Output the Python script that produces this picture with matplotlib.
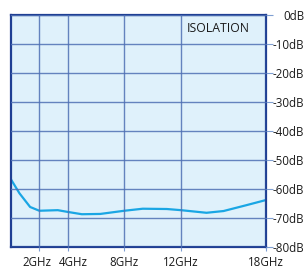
import matplotlib
matplotlib.use("Agg")
import matplotlib.pyplot as plt
import matplotlib.transforms as mtransforms

freq_ghz = [0.0, 0.6, 1.35, 2.0, 3.3, 4.0, 5.0, 6.3, 8.0, 9.3, 11.0, 12.0, 13.8, 15.0, 16.6, 18.0]
isolation_db = [-56.7, -61.5, -66.2, -67.5, -67.3, -67.9, -68.7, -68.6, -67.5, -66.8, -66.9, -67.3, -68.2, -67.6, -65.6, -63.8]

x_ticks = [2, 4, 8, 12, 18]
x_labels = ["2GHz", "4GHz", "8GHz", "12GHz", "18GHz"]
y_ticks = [0, -10, -20, -30, -40, -50, -60, -70, -80]
y_labels = ["0dB", "-10dB", "-20dB", "-30dB", "-40dB", "-50dB", "-60dB", "-70dB", "-80dB"]
title = "ISOLATION"

plt.rcParams['font.family'] = ['Open Sans', 'DejaVu Sans']

fig = plt.figure(figsize=(3.05, 2.68), dpi=100)
ax = fig.add_axes([11/305, 1-247/268, 255/305, 232/268])
ax.set_facecolor("#dff1fb")

ax.plot(freq_ghz, isolation_db, color="#1aa6e4", lw=1.6, solid_capstyle="round")

ax.set_xlim(0, 18)
ax.set_ylim(-80, 0)
ax.set_xticks(x_ticks)
ax.set_xticklabels(x_labels)
ax.set_yticks(y_ticks)
ax.set_yticklabels(y_labels)

ax.grid(True, color="#4f70b4", lw=1.0, alpha=0.85)
ax.set_axisbelow(False)
for s in ax.spines.values():
    s.set_color("#1f3f93")
    s.set_linewidth(1.6)

fs = 8.3
ax.yaxis.tick_right()
ax.tick_params(axis="y", length=5, width=0.8, color="#7f9fd2", pad=22.5, labelsize=fs, labelcolor="#1a1a1a")
for lbl in ax.get_yticklabels():
    lbl.set_horizontalalignment("right")
ax.tick_params(axis="x", length=3, width=0.8, color="#7f9fd2", pad=3.2, labelsize=fs, labelcolor="#1a1a1a")

xlbls = ax.get_xticklabels()
shifts = {0: -2, 1: 6}
for i, dx in shifts.items():
    off = mtransforms.ScaledTranslation(dx / 100, 0, fig.dpi_scale_trans)
    xlbls[i].set_transform(xlbls[i].get_transform() + off)

ax.text((187 - 11) / 255, (247 - 22) / 232, title, transform=ax.transAxes,
        fontsize=8.8, color="#1a1a1a", va="top", ha="left")

fig.savefig("out.png", dpi=100)
